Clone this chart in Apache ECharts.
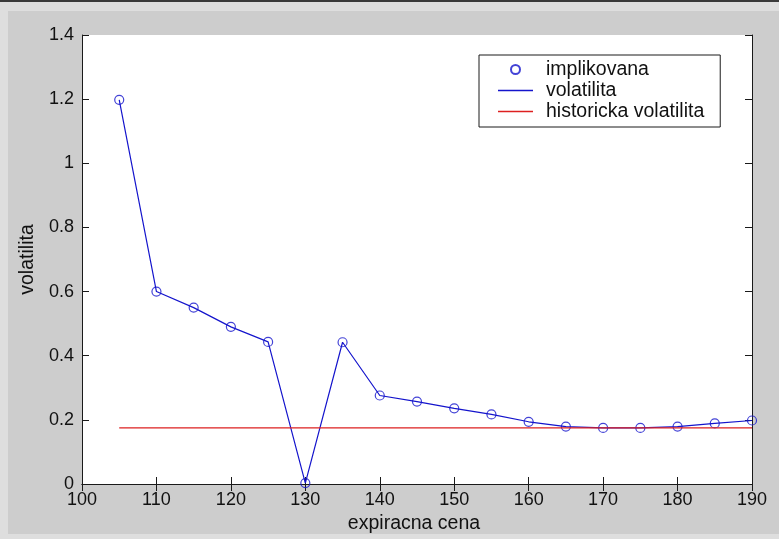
<!DOCTYPE html>
<html>
<head>
<meta charset="utf-8">
<script src="https://cdn.jsdelivr.net/npm/echarts@6/dist/echarts.min.js"></script>
<style>
  html, body { margin: 0; padding: 0; }
  #wrap { position: relative; width: 779px; height: 539px; background: #dedede; overflow: hidden; }
  #topline { position: absolute; left: 0; top: 0; width: 779px; height: 2px; background: #3a3a3a; }
  #panel { position: absolute; left: 8px; top: 11px; width: 771px; height: 523px; background: #cdcdcd; }
  #chart { position: absolute; left: 0; top: 0; width: 779px; height: 539px; }
</style>
</head>
<body>
<div id="wrap">
  <div id="topline"></div>
  <div id="panel"></div>
  <div id="chart"></div>
</div>
<script>
// ---- data ----
const strikes = [105, 110, 115, 120, 125, 130, 135, 140, 145, 150, 155, 160, 165, 170, 175, 180, 185, 190];
const impliedVol = [1.198, 0.600, 0.550, 0.490, 0.443, 0.003, 0.442, 0.276, 0.257, 0.236, 0.217, 0.194, 0.179, 0.175, 0.175, 0.179, 0.189, 0.198];
const histStrikes = [105, 190];
const histVol = [0.175, 0.175];
const seriesNames = ['implikovana', 'volatilita', 'historicka volatilita'];
const xAxisTitle = 'expiracna cena';
const yAxisTitle = 'volatilita';

const FONT = '"Liberation Sans", Arial, Helvetica, sans-serif';
const BLUE = '#1414cc';
const RED = '#dd2020';
const AX = '#1a1a1a';
const LINE_ICON = 'path://M0,0H70V3H0Z';

const pairs = strikes.map((x, i) => [x, impliedVol[i]]);
const histPairs = histStrikes.map((x, i) => [x, histVol[i]]);

const chart = echarts.init(document.getElementById('chart'), null, { renderer: 'canvas' });

const axisCommon = {
  type: 'value',
  axisLine: { show: true, lineStyle: { color: AX, width: 1 } },
  axisTick: { show: true, inside: true, length: 7, lineStyle: { color: AX, width: 1 } },
  splitLine: { show: false },
};

chart.setOption({
  animation: false,
  backgroundColor: 'transparent',
  textStyle: { fontFamily: FONT },
  grid: { left: 82, right: 27, top: 35, bottom: 55, show: true, backgroundColor: '#ffffff', borderWidth: 0 },
  xAxis: [
    Object.assign({}, axisCommon, {
      position: 'bottom', min: 100, max: 190, interval: 10,
      axisLabel: { show: true, margin: 7, fontSize: 18, color: '#111', fontFamily: FONT },
      name: xAxisTitle, nameLocation: 'middle', nameGap: 26,
      nameTextStyle: { fontSize: 19.5, color: '#111', fontFamily: FONT, padding: [0, 6, 0, 0] }
    }),
    Object.assign({}, axisCommon, {
      position: 'top', min: 100, max: 190, interval: 10,
      axisLabel: { show: false }
    })
  ],
  yAxis: [
    Object.assign({}, axisCommon, {
      position: 'left', min: 0, max: 1.4, interval: 0.2,
      axisLabel: { show: true, margin: 8, fontSize: 18, color: '#111', fontFamily: FONT },
      name: yAxisTitle, nameLocation: 'middle', nameGap: 44, nameRotate: 90,
      nameTextStyle: { fontSize: 19.5, color: '#111', fontFamily: FONT }
    }),
    Object.assign({}, axisCommon, {
      position: 'right', min: 0, max: 1.4, interval: 0.2,
      axisLabel: { show: false }
    })
  ],
  legend: {
    orient: 'vertical', left: 479, top: 55,
    padding: [4, 16, 5, 19],
    itemGap: 0, itemWidth: 35, itemHeight: 9,
    backgroundColor: '#ffffff', borderColor: AX, borderWidth: 1, borderRadius: 0,
    selectedMode: false,
    textStyle: { fontSize: 19.5, lineHeight: 21, color: '#111', fontFamily: FONT, padding: [0, 0, 0, 8] },
    data: [
      { name: seriesNames[0] },
      { name: seriesNames[1], icon: LINE_ICON, itemStyle: { color: BLUE, borderWidth: 0 } },
      { name: seriesNames[2], icon: LINE_ICON, itemStyle: { color: RED, borderWidth: 0 } }
    ]
  },
  series: [
    {
      name: seriesNames[0], type: 'scatter', data: pairs, z: 2,
      symbol: 'circle', symbolSize: 9,
      itemStyle: { color: 'rgba(255,255,255,0)', borderColor: BLUE, borderWidth: 1.2 },
      emphasis: { disabled: true }
    },
    {
      name: seriesNames[1], type: 'line', data: pairs, z: 3,
      symbol: 'none', lineStyle: { color: BLUE, width: 1.2 }, itemStyle: { color: BLUE },
      emphasis: { disabled: true }
    },
    {
      name: seriesNames[2], type: 'line', data: histPairs, z: 4,
      symbol: 'none', lineStyle: { color: RED, width: 1.2 }, itemStyle: { color: RED },
      emphasis: { disabled: true }
    }
  ]
});
</script>
</body>
</html>
